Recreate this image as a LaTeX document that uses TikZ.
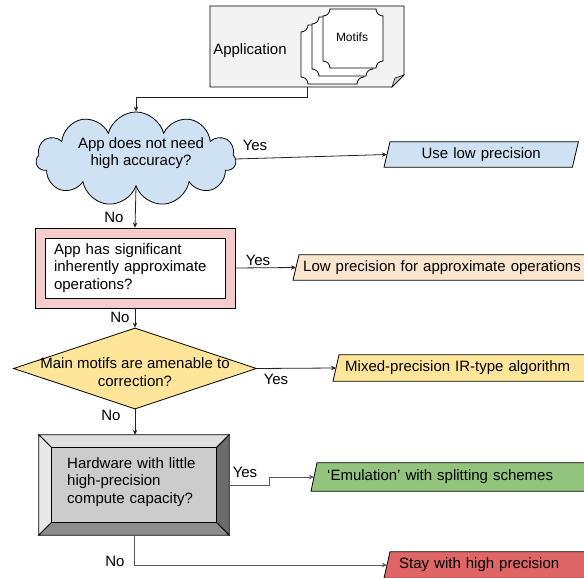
\documentclass[tikz,border=0pt]{standalone}
\usepackage{fontspec}
\setmainfont{Liberation Sans}
\usetikzlibrary{shapes.symbols,shapes.geometric,arrows.meta,backgrounds,calc}
\definecolor{docgray}{HTML}{F3F3F3}
\definecolor{foldgray}{HTML}{C8C8C8}
\definecolor{cloudblue}{HTML}{CFE2F3}
\definecolor{pinkbox}{HTML}{F4CCCC}
\definecolor{peach}{HTML}{FCE5CD}
\definecolor{yellowbox}{HTML}{FFE599}
\definecolor{greenbox}{HTML}{93C47D}
\definecolor{redbox}{HTML}{E06666}
\definecolor{linecol}{HTML}{222222}
\newcommand{\notchbox}[5]{%
 \filldraw[fill=white, line width=0.8pt] ({#1+#5},#2) -- ({#3-#5},#2) .. controls ({#3-#5},{#2+0.55*#5}) and ({#3-0.55*#5},{#2+#5}) .. (#3,{#2+#5}) -- (#3,{#4-#5}) .. controls ({#3-0.55*#5},{#4-#5}) and ({#3-#5},{#4-0.55*#5}) .. ({#3-#5},#4) -- ({#1+#5},#4) .. controls ({#1+#5},{#4-0.55*#5}) and ({#1+0.55*#5},{#4-#5}) .. (#1,{#4-#5}) -- (#1,{#2+#5}) .. controls ({#1+0.55*#5},{#2+#5}) and ({#1+#5},{#2+0.55*#5}) .. ({#1+#5},#2) -- cycle;}
\newcommand{\parabox}[3]{%
 \begin{scope}[on background layer]
 \filldraw[fill=#2, line width=0.8pt] (#1.south west) -- ([xshift=#3]#1.north west) -- (#1.north east) -- ([xshift=-#3]#1.south east) -- cycle;
 \end{scope}}
\tikzset{
 outbox/.style={anchor=west, inner ysep=0pt, align=left, minimum height=25pt},
 lbl/.style={inner sep=0pt},
 conn/.style={draw=linecol, line width=0.8pt, -{Stealth[length=5pt,width=4.5pt]}},
}
\begin{document}
\begin{tikzpicture}[x=1pt,y=-1pt,font=\fontsize{15}{17.5}\selectfont]
\useasboundingbox (0,0) rectangle (584,578);
% application document
\node[minimum width=194pt, minimum height=81pt, inner sep=0pt] (app) at (307,46.5) {};
\filldraw[fill=docgray, line width=0.8pt] (210,6) -- (404,6) -- (404,75) -- (392,87) -- (210,87) -- cycle;
\filldraw[fill=foldgray, line width=0.6pt] (404,75) -- (392,87) -- (395,78) -- cycle;
\notchbox{301}{25}{364}{84}{7}
\notchbox{312}{17}{373}{76}{7}
\notchbox{323}{9}{383}{68}{7}
\node (motifs) at (352,37) {\fontsize{12}{14}\selectfont Motifs};
\node (applabel) at (250,51) {Application};
% cloud
\node[cloud, cloud puffs=11, aspect=2.1, draw, fill=cloudblue, line width=0.8pt, minimum width=200pt, minimum height=94pt, inner sep=0pt] (q1) at (136,159) {};
\node[align=center] (q1t) at (141,153) {App does not need\\high accuracy?};
% output 1
\node[outbox, minimum width=194pt, text width=194pt, inner xsep=0pt, align=center] (lowp) at (384,154.5) {Use low precision};
\parabox{lowp}{cloudblue}{6pt}
% pink box
\node[draw, fill=pinkbox, line width=0.8pt, minimum width=200pt, minimum height=80pt] (q2) at (135,268) {};
\node[draw, fill=white, line width=0.8pt, minimum width=180pt, minimum height=60pt, text width=162pt, inner xsep=9pt, align=left] (q2t) at (135,268) {App has significant\\inherently approximate\\operations?};
\node[outbox, minimum width=310pt, text width=290pt, inner xsep=10pt] (approx) at (293,267.5) {Low precision for approximate operations};
\parabox{approx}{peach}{6pt}
% diamond
\node[diamond, draw, fill=yellowbox, line width=0.8pt, aspect=3, minimum width=243pt, minimum height=81pt, inner sep=0pt] (q3) at (135,368.5) {};
\node[align=center] (q3t) at (135,372) {Main motifs are amenable to\\correction?};
\node[outbox, minimum width=270pt, text width=258pt, inner xsep=12pt, minimum height=26pt] (mixed) at (333,368) {Mixed-precision IR-type algorithm};
\parabox{mixed}{yellowbox}{6pt}
% bevel box
\node[minimum width=190pt, minimum height=100pt, inner sep=0pt] (q4) at (134,485) {};
\coordinate (inw) at ($(q4.north west)+(13,13)$);
\coordinate (ine) at ($(q4.north east)+(-13,13)$);
\coordinate (isw) at ($(q4.south west)+(13,-13)$);
\coordinate (ise) at ($(q4.south east)+(-13,-13)$);
\begin{scope}[line width=0.8pt]
\filldraw[fill=gray!25] (q4.north west) -- (q4.north east) -- (ine) -- (inw) -- cycle;
\filldraw[fill=gray!18] (q4.north west) -- (inw) -- (isw) -- (q4.south west) -- cycle;
\filldraw[fill=gray!110!black!100, fill=black!58] (q4.north east) -- (ine) -- (ise) -- (q4.south east) -- cycle;
\filldraw[fill=black!45] (q4.south west) -- (isw) -- (ise) -- (q4.south east) -- cycle;
\filldraw[fill=gray!40] (inw) rectangle (ise);
\end{scope}
\node[text width=150pt, align=left, anchor=west, inner sep=0pt] (q4t) at (67,482) {Hardware with little\\high-precision\\compute capacity?};
\node[outbox, minimum width=290pt, text width=270pt, inner xsep=16pt, minimum height=28pt] (emul) at (311,477) {‘Emulation’ with splitting schemes};
\parabox{emul}{greenbox}{6pt}
\node[outbox, minimum width=220pt, text width=205pt, inner xsep=15pt, minimum height=26pt] (stay) at (384,565) {Stay with high precision};
\parabox{stay}{redbox}{6pt}
% connectors
\draw[conn] (app.south) -- ++(0,10) -| (q1.north);
\draw[conn] (q1.east) -- ([xshift=3pt]lowp.west);
\draw[conn] (q1.south) -- (q2.north);
\draw[conn] (q2.east) -- ([xshift=3pt]approx.west);
\draw[conn] (q2.south) -- (q3.north);
\draw[conn] (q3.east) -- ([xshift=3pt]mixed.west);
\draw[conn] (q3.south) -- (q3.south |- q4.north);
\draw[conn, draw=black!65] (q4.east) -- ++(40,0) |- ([xshift=3pt]emul.west);
\draw[conn, draw=black!65] (q4.south) |- ([xshift=3pt]stay.west);
% labels
\node[lbl] (y1) at (255,145) {Yes};
\node[lbl] (n1) at (114,217) {No};
\node[lbl] (y2) at (258,260) {Yes};
\node[lbl] (n2) at (120,317) {No};
\node[lbl] (y3) at (276,379) {Yes};
\node[lbl] (n3) at (111,415) {No};
\node[lbl] (y4) at (245,472) {Yes};
\node[lbl] (n4) at (115,561) {No};
\end{tikzpicture}
\end{document}
